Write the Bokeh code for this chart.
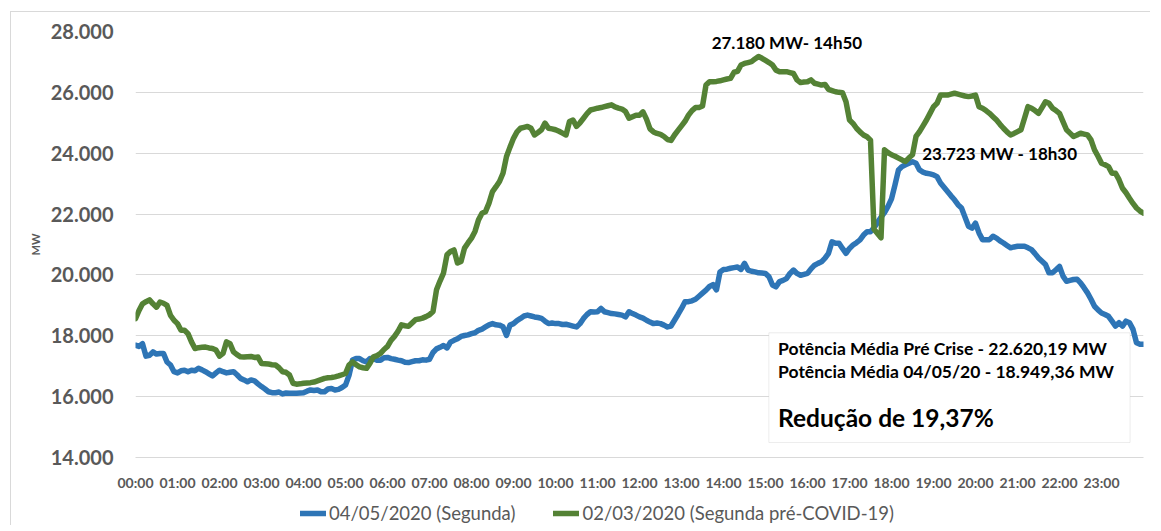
from bokeh.plotting import figure
from bokeh.layouts import column
from bokeh.models import Range1d, FixedTicker, Legend, LegendItem, Label, BoxAnnotation, ColumnDataSource
from bokeh.embed import file_html
from bokeh.resources import INLINE

# ---------------- data (5-minute readings, MW) ----------------
minutes = list(range(0, 24 * 60 + 1, 5))

blue_label = "04/05/2020 (Segunda)"
green_label = "02/03/2020 (Segunda pré-COVID-19)"

blue_mw = [
    17690, 17650, 17740, 17330, 17360, 17470, 17400, 17420, 17420, 17140, 17040, 16820,
    16780, 16850, 16870, 16820, 16870, 16850, 16930, 16880, 16820, 16750, 16680, 16780,
    16870, 16820, 16780, 16800, 16820, 16720, 16600, 16550, 16490, 16550, 16520, 16420,
    16330, 16250, 16160, 16130, 16130, 16150, 16090, 16120, 16110, 16110, 16110, 16120,
    16130, 16180, 16220, 16200, 16220, 16160, 16160, 16250, 16270, 16220, 16240, 16300,
    16380, 16700, 17200, 17250, 17250, 17180, 17140, 17250, 17250, 17200, 17200, 17280,
    17290, 17250, 17230, 17200, 17180, 17130, 17120, 17150, 17180, 17180, 17210, 17200,
    17230, 17450, 17570, 17620, 17680, 17600, 17790, 17850, 17900, 17980, 18010, 18030,
    18070, 18100, 18180, 18220, 18290, 18360, 18400, 18360, 18350, 18300, 18010, 18350,
    18400, 18500, 18570, 18650, 18680, 18650, 18620, 18600, 18570, 18480, 18400, 18420,
    18400, 18400, 18370, 18380, 18350, 18320, 18290, 18400, 18570, 18700, 18790, 18780,
    18790, 18900, 18790, 18760, 18730, 18720, 18700, 18680, 18620, 18790, 18730, 18680,
    18620, 18580, 18510, 18450, 18400, 18420, 18400, 18350, 18290, 18320, 18510, 18700,
    18900, 19120, 19120, 19150, 19200, 19300, 19400, 19500, 19620, 19680, 19510, 20100,
    20180, 20190, 20220, 20240, 20260, 20180, 20380, 20160, 20120, 20100, 20070, 20060,
    20050, 19940, 19670, 19610, 19780, 19820, 19880, 20050, 20160, 20050, 19990, 20020,
    20050, 20200, 20320, 20380, 20430, 20550, 20710, 21090, 21040, 21040, 20870, 20710,
    20870, 20980, 21060, 21150, 21310, 21420, 21420, 21550, 21720, 21900, 22050, 22250,
    22500, 22960, 23450, 23560, 23620, 23670, 23720, 23670, 23450, 23380, 23340, 23320,
    23290, 23230, 23020, 22880, 22740, 22600, 22470, 22310, 22200, 21900, 21600, 21540,
    21700, 21380, 21160, 21160, 21160, 21270, 21210, 21120, 21050, 20970, 20890, 20920,
    20940, 20940, 20940, 20890, 20830, 20700, 20560, 20450, 20340, 20070, 20070, 20170,
    20280, 19960, 19790, 19820, 19850, 19860, 19740, 19580, 19410, 19200, 18970, 18850,
    18750, 18700, 18640, 18480, 18320, 18430, 18320, 18480, 18430, 18210, 17770, 17720,
    17720,
]

green_mw = [
    18560, 18830, 19050, 19120, 19180, 19050, 18940, 19110, 19070, 19000, 18670, 18510,
    18400, 18180, 18180, 18070, 17800, 17580, 17610, 17620, 17630, 17600, 17580, 17530,
    17330, 17420, 17800, 17740, 17470, 17380, 17310, 17300, 17310, 17320, 17290, 17300,
    17090, 17080, 17070, 17050, 17040, 16950, 16820, 16800, 16710, 16440, 16410, 16420,
    16440, 16450, 16460, 16480, 16520, 16560, 16600, 16620, 16630, 16650, 16680, 16720,
    16760, 17040, 17140, 17050, 16980, 16950, 16930, 17100, 17310, 17350, 17420, 17550,
    17650, 17850, 17980, 18150, 18360, 18330, 18310, 18420, 18530, 18550, 18580, 18630,
    18690, 18800, 19510, 19800, 20060, 20660, 20770, 20820, 20390, 20440, 20880, 21050,
    21210, 21430, 21810, 22030, 22080, 22360, 22740, 22900, 23070, 23340, 23890, 24200,
    24490, 24700, 24820, 24850, 24880, 24820, 24600, 24680, 24770, 24990, 24820, 24800,
    24770, 24720, 24660, 24600, 25040, 25090, 24880, 25000, 25150, 25300, 25420, 25450,
    25480, 25500, 25530, 25560, 25590, 25520, 25480, 25450, 25370, 25150, 25200, 25250,
    25250, 25360, 25120, 24800, 24700, 24650, 24620, 24550, 24450, 24420, 24600, 24750,
    24900, 25050, 25250, 25400, 25500, 25500, 25550, 26240, 26350, 26350, 26360, 26380,
    26410, 26440, 26460, 26660, 26690, 26900, 26950, 26980, 27010, 27100, 27180, 27120,
    27050, 26980, 26900, 26730, 26680, 26680, 26680, 26650, 26620, 26410, 26320, 26340,
    26350, 26410, 26300, 26270, 26240, 26260, 26100, 26060, 26020, 26000, 25990, 25690,
    25090, 24980, 24820, 24700, 24600, 24540, 24430, 21500, 21360, 21220, 24110, 24020,
    23950, 23900, 23840, 23780, 23730, 23850, 23950, 24550, 24710, 24900, 25090, 25310,
    25530, 25640, 25910, 25910, 25910, 25940, 25970, 25940, 25910, 25880, 25860, 25880,
    25910, 25530, 25480, 25400, 25310, 25200, 25090, 24950, 24820, 24700, 24600, 24650,
    24710, 24770, 25150, 25530, 25480, 25400, 25310, 25500, 25690, 25640, 25480, 25400,
    25310, 25040, 24770, 24660, 24550, 24600, 24660, 24630, 24600, 24440, 24110, 23900,
    23670, 23620, 23560, 23340, 23340, 23130, 22850, 22700, 22520, 22350, 22200, 22100,
    22030,
]

hour_ticks = list(range(24))
hour_labels = ["00:00", "01:00", "02:00", "03:00", "04:00", "05:00", "06:00", "07:00",
               "08:00", "09:00", "10:00", "11:00", "12:00", "13:00", "14:00", "15:00",
               "16:00", "17:00", "18:00", "19:00", "20:00", "21:00", "22:00", "23:00"]
y_ticks = [14000, 16000, 18000, 20000, 22000, 24000, 26000, 28000]
y_tick_labels = ["14.000", "16.000", "18.000", "20.000", "22.000", "24.000", "26.000", "28.000"]

peak_text = "27.180 MW- 14h50"
peak2_text = "23.723 MW - 18h30"
box_lines = ["Potência Média Pré Crise - 22.620,19 MW",
             "Potência Média 04/05/20 - 18.949,36 MW"]
box_result = "Redução de 19,37%"

# ---------------- figure ----------------
FONT = "Lato"
GRAY = "#595959"
BLUE = "#2E75B6"
GREEN = "#548235"
LW = 5.5

src = ColumnDataSource(dict(h=[m / 60 for m in minutes], blue=blue_mw, green=green_mw))

p = figure(width=1150, height=500, output_backend="svg", toolbar_location=None,
           x_range=Range1d(0, 24), y_range=Range1d(14000, 28000),
           min_border_left=135, min_border_right=7, min_border_top=31, min_border_bottom=43)
p.outline_line_color = None
p.background_fill_color = "white"
p.border_fill_color = None

# axes
p.yaxis.ticker = FixedTicker(ticks=y_ticks)
p.yaxis.major_label_overrides = dict(zip(y_ticks, y_tick_labels))
p.yaxis.axis_line_color = None
p.yaxis.major_tick_line_color = None
p.yaxis.minor_tick_line_color = None
p.yaxis.major_tick_out = 0
p.yaxis.major_tick_in = 0
p.yaxis.major_label_standoff = 22
p.yaxis.major_label_text_font = FONT
p.yaxis.major_label_text_font_style = "bold"
p.yaxis.major_label_text_font_size = "20px"
p.yaxis.major_label_text_color = GRAY
p.yaxis.axis_label = "MW"
p.yaxis.axis_label_text_font = FONT
p.yaxis.axis_label_text_font_style = "bold"
p.yaxis.axis_label_text_font_size = "11px"
p.yaxis.axis_label_text_color = GRAY
p.yaxis.axis_label_standoff = 6

p.xaxis.ticker = FixedTicker(ticks=hour_ticks)
p.xaxis.major_label_overrides = dict(zip(hour_ticks, hour_labels))
p.xaxis.axis_line_color = "#d9d9d9"
p.xaxis.axis_line_width = 1
p.xaxis.major_tick_line_color = None
p.xaxis.minor_tick_line_color = None
p.xaxis.major_tick_out = 0
p.xaxis.major_tick_in = 0
p.xaxis.major_label_standoff = 16
p.xaxis.major_label_text_font = FONT
p.xaxis.major_label_text_font_style = "bold"
p.xaxis.major_label_text_font_size = "14px"
p.xaxis.major_label_text_color = GRAY

p.xgrid.visible = False
p.ygrid.ticker = FixedTicker(ticks=y_ticks)
p.ygrid.grid_line_color = "#d9d9d9"
p.ygrid.grid_line_width = 1

# lines
r_blue = p.line("h", "blue", source=src, line_color=BLUE, line_width=LW,
                line_join="round", line_cap="round")
r_green = p.line("h", "green", source=src, line_color=GREEN, line_width=LW,
                 line_join="round", line_cap="round")

# annotations
p.add_layout(Label(x=15.51, y=27639, text=peak_text, text_align="center", text_baseline="middle",
                   text_font=FONT, text_font_style="bold", text_font_size="17px", text_color="black"))
p.add_layout(Label(x=18.73, y=24000, text=peak2_text, text_align="left", text_baseline="middle",
                   text_font=FONT, text_font_style="bold", text_font_size="17px", text_color="black"))

p.add_layout(BoxAnnotation(left=15.08, right=23.68, top=18098, bottom=14492,
                           fill_color="white", fill_alpha=1.0,
                           line_color="#bfbfbf", line_width=1))
p.add_layout(Label(x=15.30, y=17574, text=box_lines[0], text_align="left", text_baseline="middle",
                   text_font=FONT, text_font_style="bold", text_font_size="17.5px", text_color="black"))
p.add_layout(Label(x=15.30, y=16836, text=box_lines[1], text_align="left", text_baseline="middle",
                   text_font=FONT, text_font_style="bold", text_font_size="17.5px", text_color="black"))
p.add_layout(Label(x=15.30, y=15311, text=box_result, text_align="left", text_baseline="middle",
                   text_font=FONT, text_font_style="bold", text_font_size="24.5px", text_color="black"))

# ---------------- legend strip below the chart ----------------
leg = figure(width=1150, height=25, output_backend="svg", toolbar_location=None,
             x_range=Range1d(0, 1), y_range=Range1d(0, 1), min_border=0)
leg.axis.visible = False
leg.grid.visible = False
leg.outline_line_color = None
leg.background_fill_color = None
leg.border_fill_color = None
# legend proxies (no visible data points)
lb = leg.line([float("nan")], [float("nan")], line_color=BLUE, line_width=LW, line_cap="round")
lg = leg.line([float("nan")], [float("nan")], line_color=GREEN, line_width=LW, line_cap="round")
legend = Legend(items=[LegendItem(label=blue_label, renderers=[lb]),
                       LegendItem(label=green_label, renderers=[lg])],
                orientation="horizontal", location=(165, 1),
                label_text_font=FONT, label_text_font_size="18.5px", label_text_color=GRAY,
                glyph_width=26, glyph_height=20, label_height=20, label_standoff=3, spacing=38,
                padding=0, margin=0, border_line_color=None, background_fill_alpha=0)
leg.add_layout(legend)

# faint outer chart border (left/top edges)
layout = column(p, leg, spacing=0,
                styles={"box-shadow": "inset 10px 11px 0 0 white, inset 11px 12px 0 0 #d9d9d9"})
open("out.html", "w").write(file_html(layout, INLINE))
